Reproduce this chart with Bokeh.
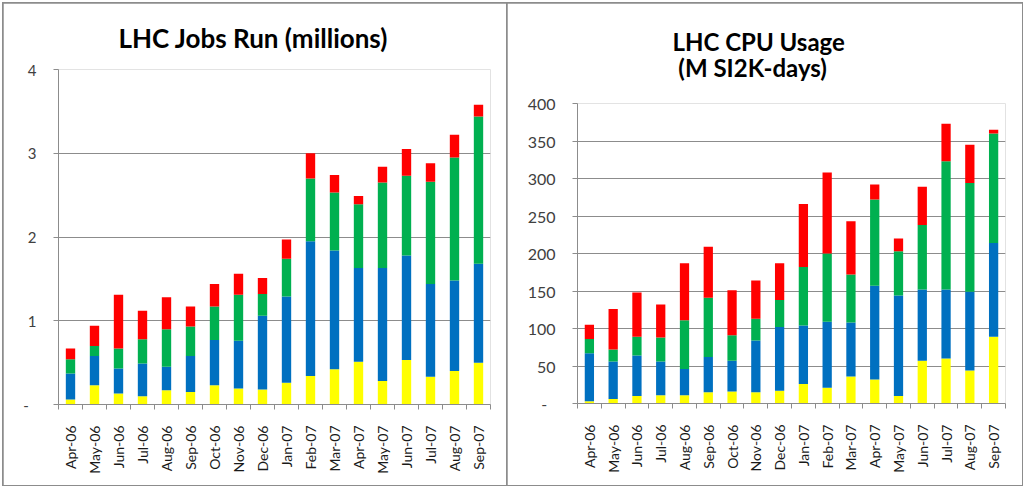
import math
from bokeh.plotting import figure
from bokeh.layouts import row, column
from bokeh.models import FixedTicker, Range1d, ColumnDataSource, Title
from bokeh.embed import file_html
from bokeh.resources import INLINE

months = ["Apr-06", "May-06", "Jun-06", "Jul-06", "Aug-06", "Sep-06", "Oct-06", "Nov-06", "Dec-06",
          "Jan-07", "Feb-07", "Mar-07", "Apr-07", "May-07", "Jun-07", "Jul-07", "Aug-07", "Sep-07"]

# LHC Jobs Run (millions)
jobs_yellow = [0.06, 0.23, 0.13, 0.10, 0.17, 0.15, 0.23, 0.19, 0.18, 0.26, 0.34, 0.42, 0.51, 0.28, 0.53, 0.33, 0.40, 0.50]
jobs_blue   = [0.31, 0.35, 0.30, 0.39, 0.28, 0.43, 0.54, 0.57, 0.88, 1.03, 1.61, 1.42, 1.12, 1.35, 1.25, 1.11, 1.08, 1.18]
jobs_green  = [0.17, 0.12, 0.24, 0.29, 0.45, 0.35, 0.40, 0.55, 0.26, 0.45, 0.75, 0.69, 0.76, 1.02, 0.95, 1.22, 1.47, 1.76]
jobs_red    = [0.13, 0.24, 0.64, 0.34, 0.38, 0.24, 0.27, 0.25, 0.19, 0.23, 0.30, 0.21, 0.10, 0.19, 0.32, 0.22, 0.27, 0.14]

# LHC CPU Usage (M SI2K-days)
cpu_yellow = [3, 6, 10, 11, 11, 15, 16, 15, 17, 26, 21, 36, 32, 10, 57, 60, 44, 89]
cpu_blue   = [64, 50, 54, 45, 35, 47, 41, 69, 85, 78, 88, 72, 125, 134, 95, 92, 105, 125]
cpu_green  = [19, 16, 25, 32, 65, 79, 34, 29, 36, 78, 91, 64, 115, 59, 86, 171, 145, 146]
cpu_red    = [19, 54, 59, 44, 76, 68, 60, 51, 49, 84, 108, 71, 20, 17, 51, 50, 51, 5]

series_names = ["yellow", "blue", "green", "red"]
series_colors = ["#FFFF00", "#0070C0", "#00B050", "#FF0000"]

FONT = "Lato"
GRID = "#8C8C8C"


def make_chart(title, title_off, title_standoff, title_size, vals, ymax, ystep,
               fw, fh, ml, mr, mt, mb, tick_size):
    n = len(months)
    p = figure(frame_width=fw, frame_height=fh, output_backend="svg", toolbar_location=None,
               title=None, x_range=Range1d(0, n), y_range=Range1d(0, ymax),
               min_border_left=ml, min_border_right=mr, min_border_top=mt, min_border_bottom=mb)
    xs = [i + 0.5 for i in range(n)]
    data = {"x": xs}
    for nm, v in zip(series_names, vals):
        data[nm] = v
    src = ColumnDataSource(data)
    p.vbar_stack(series_names, x="x", width=0.39, color=series_colors, line_color=None, source=src)

    p.add_layout(Title(text=title, align="left", offset=title_off, standoff=title_standoff,
                       text_font=FONT, text_font_style="bold", text_font_size=title_size,
                       text_line_height=0.9, text_color="#000000"), "above")

    yt = list(range(0, ymax + 1, ystep))
    p.yaxis.ticker = FixedTicker(ticks=yt)
    p.yaxis.major_label_overrides = {0: "-\u00a0\u00a0"}
    p.yaxis.major_label_text_font = FONT
    p.yaxis.major_label_text_font_size = tick_size
    p.yaxis.major_label_text_color = "#404040"
    p.yaxis.axis_line_color = GRID
    p.yaxis.major_tick_line_color = GRID
    p.yaxis.major_tick_out = 5
    p.yaxis.major_tick_in = 0
    p.yaxis.minor_tick_line_color = None
    p.yaxis.major_label_standoff = 17
    p.ygrid.ticker = FixedTicker(ticks=yt[1:])
    p.ygrid.grid_line_color = GRID
    p.xgrid.grid_line_color = None

    p.xaxis.ticker = FixedTicker(ticks=xs, minor_ticks=list(range(n + 1)))
    p.xaxis.major_label_overrides = {x: m for x, m in zip(xs, months)}
    p.xaxis.major_label_orientation = math.pi / 2
    p.xaxis.major_label_text_font = FONT
    p.xaxis.major_label_text_font_size = "14px"
    p.xaxis.major_label_text_color = "#1a1a1a"
    p.xaxis.major_tick_line_color = None
    p.xaxis.major_tick_out = 0
    p.xaxis.major_tick_in = 0
    p.xaxis.minor_tick_line_color = GRID
    p.xaxis.minor_tick_out = 5
    p.xaxis.minor_tick_in = 0
    p.xaxis.axis_line_color = GRID
    p.xaxis.major_label_standoff = 16

    p.outline_line_color = None
    p.background_fill_color = "white"
    p.border_fill_color = "white"
    return p


p1 = make_chart("LHC Jobs Run (millions)", 60, 32, "26px",
                [jobs_yellow, jobs_blue, jobs_green, jobs_red], 4, 1,
                432, 335, 55, 16, 66, 81, "15px")
p2 = make_chart("LHC CPU Usage\n\u00a0(M SI2K-days)", 95, 43, "24px",
                [cpu_yellow, cpu_blue, cpu_green, cpu_red], 400, 50,
                428, 300, 70, 17, 100, 82, "16px")

layout = row(column(p1), column(p2), spacing=1,
             styles={"background-color": GRID, "padding": "1px", "margin": "2px 0 0 2px"})
open("out.html", "w").write(file_html(layout, INLINE))
